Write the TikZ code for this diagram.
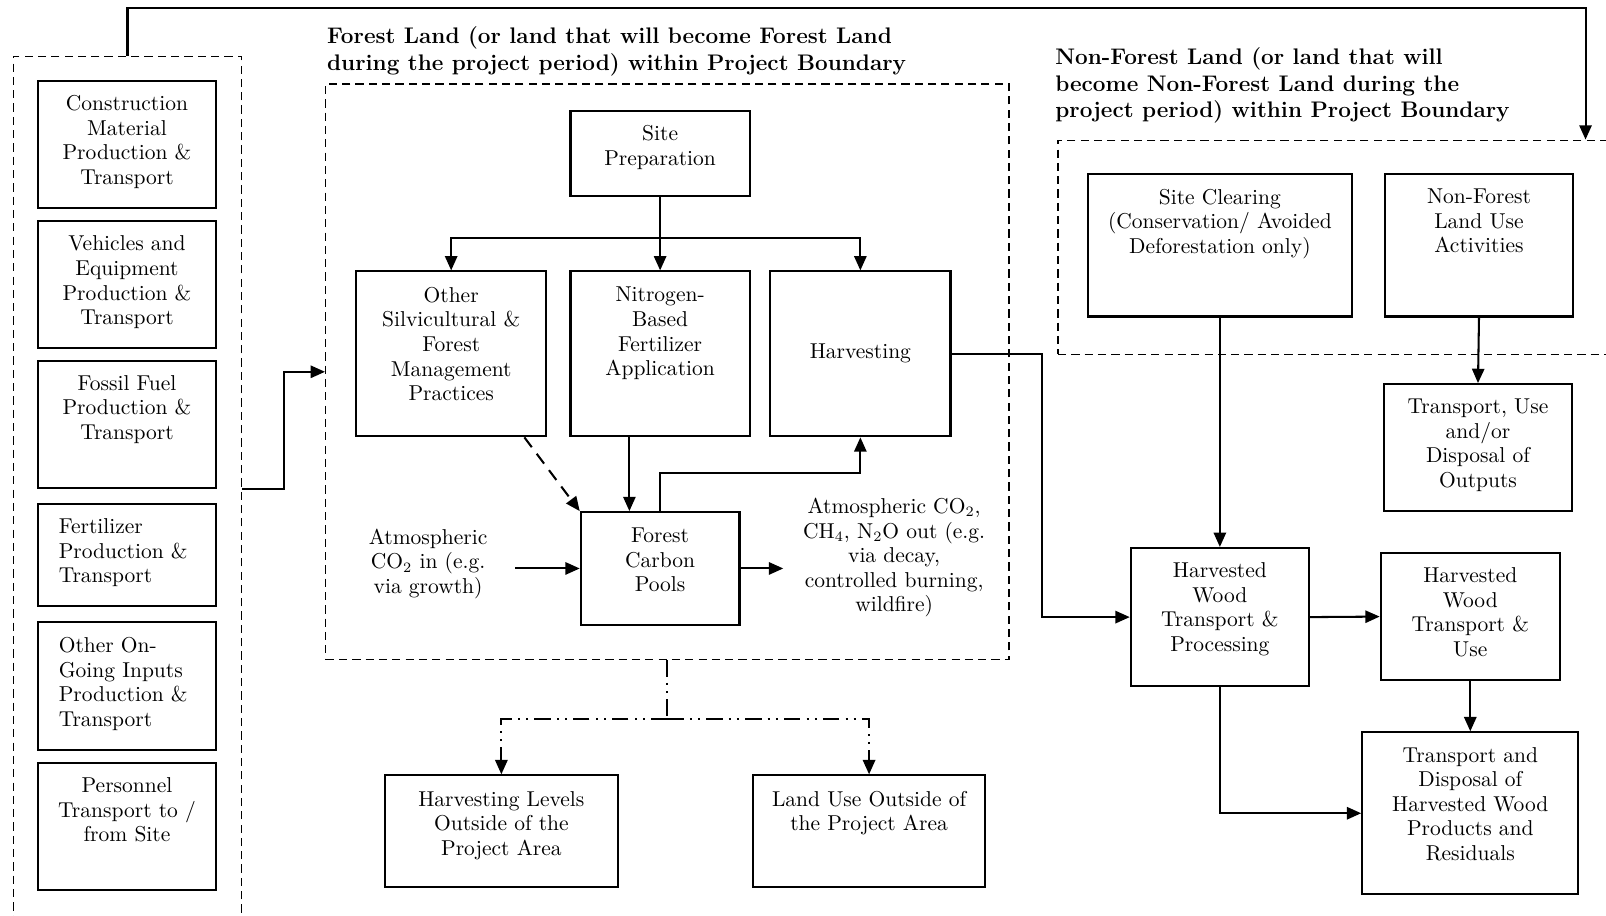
\documentclass[tikz,border=0pt]{standalone}
\usetikzlibrary{arrows.meta,fit,calc}
\newcommand\fs{\fontsize{10.5}{12}\selectfont}
\newcommand\ttl{\fontsize{11}{13}\selectfont\bfseries}
\tikzset{
  box/.style={draw, line width=1pt, rectangle, inner sep=0pt},
  dbox/.style={draw, line width=0.7pt, dash pattern=on 4pt off 2.5pt, rectangle, inner sep=0pt},
  txt/.style={align=center, font=\fs, inner sep=0pt, anchor=north},
  ltxt/.style={align=left, font=\fs, inner sep=0pt, anchor=north west},
  title/.style={align=left, font=\ttl, inner sep=0pt, anchor=north west},
  arr/.style={-{Triangle[length=7pt,width=6pt]}, line width=1pt},
  dashdot/.style={line width=1pt, dash pattern=on 8pt off 3pt on 1pt off 3pt on 1pt off 3pt}
}
\begin{document}
\begin{tikzpicture}[x=0.5pt,y=-0.5pt]
\useasboundingbox (0,0) rectangle (1568,894);
% dashed regions
\node[dbox, fit={(13,55) (236,915)}] (inputs) {};
\node[dbox, fit={(318,82) (985,644)}] (forest) {};
\node[dbox, fit={(1033,137) (1600,346)}] (nonforest) {};
% titles
\node[title] (ftitle) at (319,26) {Forest Land (or land that will become Forest Land\\during the project period) within Project Boundary};
\node[title] (ntitle) at (1030,46) {Non-Forest Land (or land that will\\become Non-Forest Land during the\\project period) within Project Boundary};
% left input boxes
\node[box, fit={(37,79) (211,203)}] (cmp) {};
\node[txt] (cmpt) at (124,93) {Construction\\Material\\Production \&\\Transport};
\node[box, fit={(37,216) (211,340)}] (vep) {};
\node[txt] (vept) at (124,230) {Vehicles and\\Equipment\\Production \&\\Transport};
\node[box, fit={(37,352) (211,476)}] (fossil) {};
\node[txt] (fossilt) at (124,366) {Fossil Fuel\\Production \&\\Transport};
\node[box, fit={(37,492) (211,592)}] (fert) {};
\node[ltxt] (fertt) at (57,506) {Fertilizer\\Production \&\\Transport};
\node[box, fit={(37,607) (211,732)}] (ogi) {};
\node[ltxt] (ogit) at (57,622) {Other On-\\Going Inputs\\Production \&\\Transport};
\node[box, fit={(37,745) (211,869)}] (pers) {};
\node[txt] (perst) at (124,759) {Personnel\\Transport to /\\from Site};
% forest boxes
\node[box, fit={(557,108) (732,191)}] (site) {};
\node[txt] (sitet) at (644.5,122) {Site\\Preparation};
\node[box, fit={(348,265) (533,426)}] (other) {};
\node[txt] (othert) at (440.5,280) {Other\\Silvicultural \&\\Forest\\Management\\Practices};
\node[box, fit={(557,265) (732,426)}] (nitro) {};
\node[txt] (nitrot) at (644.5,280) {Nitrogen-\\Based\\Fertilizer\\Application};
\node[box, fit={(752,265) (928,426)}] (harv) {};
\node[txt] (harvt) at (840,335) {Harvesting};
\node[box, fit={(567,500) (722,610)}] (fcp) {};
\node[txt] (fcpt) at (644.5,515) {Forest\\Carbon\\Pools};
\node[txt] (atmin) at (418,516) {Atmospheric\\CO$_2$ in (e.g.\\via growth)};
\node[txt] (atmout) at (873,486) {Atmospheric CO$_2$,\\CH$_4$, N$_2$O out (e.g.\\via decay,\\controlled burning,\\wildfire)};
% outside boxes
\node[box, fit={(376,757) (603,866)}] (hlo) {};
\node[txt] (hlot) at (489.5,772) {Harvesting Levels\\Outside of the\\Project Area};
\node[box, fit={(735,757) (962,866)}] (luo) {};
\node[txt] (luot) at (848.5,772) {Land Use Outside of\\the Project Area};
% non-forest boxes
\node[box, fit={(1062,170) (1320,309)}] (siteclr) {};
\node[txt] (siteclrt) at (1191,184) {Site Clearing\\(Conservation/ Avoided\\Deforestation only)};
\node[box, fit={(1352,170) (1536,309)}] (nflu) {};
\node[txt] (nflut) at (1444,184) {Non-Forest\\Land Use\\Activities};
\node[box, fit={(1351,375) (1535,499)}] (tudo) {};
\node[txt] (tudot) at (1443,389) {Transport, Use\\and/or\\Disposal of\\Outputs};
\node[box, fit={(1104,535) (1278,670)}] (hwtp) {};
\node[txt] (hwtpt) at (1191,549) {Harvested\\Wood\\Transport \&\\Processing};
\node[box, fit={(1348,540) (1523,664)}] (hwtu) {};
\node[txt] (hwtut) at (1435.5,554) {Harvested\\Wood\\Transport \&\\Use};
\node[box, fit={(1330,715) (1541,873)}] (tdhw) {};
\node[txt] (tdhwt) at (1435.5,729) {Transport and\\Disposal of\\Harvested Wood\\Products and\\Residuals};
% connectors
\coordinate (tc) at (1548,8);
\draw[arr] (inputs.north) |- (tc) -- (tc |- nonforest.north);
\draw[arr] (inputs.east |- fossil.south) -- ++(41,0) |- (forest.west);
\draw[arr] (site.south) -- (nitro.north);
\draw[arr] (site.south) -- ++(0,40) -| (other.north);
\draw[arr] (site.south) -- ++(0,40) -| (harv.north);
\draw[arr, dash pattern=on 6pt off 4pt] ($(other.south east)+(-22,0)$) -- (fcp.north west);
\draw[arr] ($(nitro.south)+(-30,0)$) -- ($(fcp.north)+(-30,0)$);
\draw[arr] (fcp.north) -- ++(0,-37) -| (harv.south);
\draw[arr] ($(atmin.east |- fcp.west)+(27,0)$) -- (fcp.west);
\draw[arr] (fcp.east) -- ($(atmout.west |- fcp.east)+(-19,0)$);
\draw[arr] (harv.east) -- ++(88,0) |- (hwtp.west);
\draw[arr] (siteclr.south) -- (hwtp.north);
\draw[arr] (nflu.south) -- (tudo.north);
\draw[arr] (hwtp.east) -- (hwtu.west);
\draw[arr] (hwtu.south) -- (hwtu.south |- tdhw.north);
\draw[arr] (hwtp.south) |- (tdhw.west);
\coordinate (split) at ($(forest.south)+(0,57)$);
\draw[dashdot] (forest.south) -- (split);
\draw[dashdot, arr] (split) -| (hlo.north);
\draw[dashdot, arr] (split) -| (luo.north);
\end{tikzpicture}
\end{document}
